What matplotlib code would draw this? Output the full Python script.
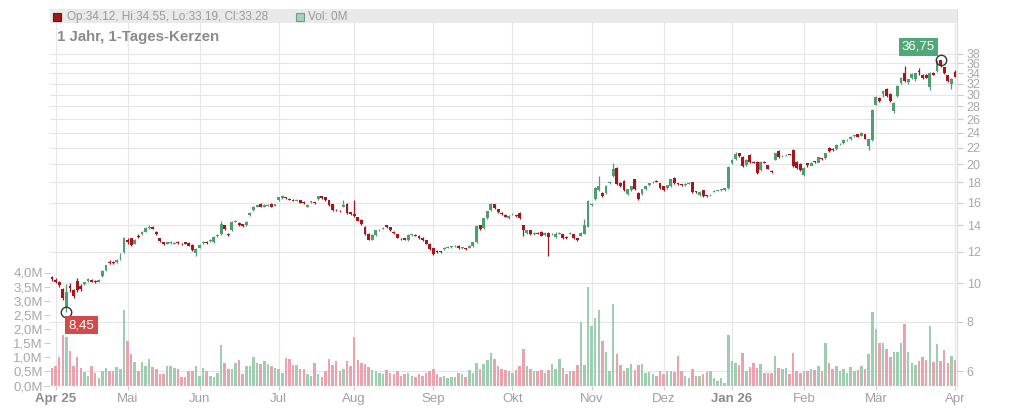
import numpy as np
import matplotlib
matplotlib.use("Agg")
import matplotlib.pyplot as plt
from matplotlib.patches import Rectangle

plt.rcParams['font.family'] = ['Liberation Sans', 'DejaVu Sans']

# ---------------- data (daily candles, 1 year) ----------------
opens = [10.35, 10.20, 10.05, 9.70, 8.70, 9.85, 9.60, 10.15, 9.85, 9.95, 10.15, 10.20, 10.15, 10.10, 10.45, 10.80, 11.35, 11.35, 11.30, 11.50,
         12.00, 12.90, 13.00, 12.60, 13.20, 13.30, 13.50, 13.80, 13.90, 13.50, 13.00, 12.70, 12.60, 12.65, 12.60, 12.75, 12.60, 12.70, 12.65, 12.50,
         11.90, 12.30, 12.65, 12.75, 12.80, 12.70, 13.15, 13.30, 14.00, 13.30, 13.60, 14.30, 14.20, 14.10, 14.00, 14.85, 15.30, 15.60, 15.90, 15.60,
         15.70, 15.90, 15.70, 16.20, 16.40, 16.50, 16.30, 16.20, 16.15, 16.20, 16.05, 15.60, 16.05, 16.00, 16.30, 16.60, 16.50, 16.20, 15.85, 15.35,
         15.25, 15.60, 15.90, 15.10, 15.00, 14.70, 14.45, 13.90, 13.35, 12.90, 13.25, 13.60, 13.75, 14.00, 13.85, 13.50, 13.30, 13.00, 13.00, 12.85,
         13.25, 13.25, 13.20, 13.05, 12.85, 12.60, 12.25, 12.10, 12.05, 12.20, 12.30, 12.35, 12.40, 12.45, 12.28, 12.25, 12.30, 12.40, 12.70, 14.00,
         13.80, 14.60, 15.30, 15.85, 15.40, 15.05, 14.90, 14.60, 14.95, 14.85, 15.05, 14.00, 13.40, 13.60, 13.30, 13.40, 13.50, 13.25, 13.40, 13.30,
         13.10, 13.35, 13.30, 13.10, 13.35, 13.30, 13.00, 13.20, 13.35, 13.90, 15.80, 16.30, 17.20, 16.90, 16.90, 17.90, 18.70, 19.60, 17.90,
         18.10, 16.80, 17.20, 18.30, 16.90, 16.80, 17.30, 17.70, 18.00, 18.10, 17.90, 17.60, 17.40, 17.60, 18.50, 17.90, 17.80, 17.75, 17.85, 18.00,
         17.05, 16.70, 17.20, 16.65, 16.70, 17.05, 17.15, 17.20, 17.20, 17.40, 20.10, 20.60, 21.30, 20.90, 19.90, 21.10, 20.25, 20.30, 19.30, 20.25,
         19.90, 19.20, 20.50, 21.60, 20.95, 21.05, 21.15, 21.70, 20.30, 20.00, 18.80, 20.10, 19.80, 20.30, 20.20, 20.65, 20.70, 22.00, 21.90, 21.80,
         22.45, 22.60, 23.00, 23.10, 23.55, 23.80, 23.60, 23.80, 22.30, 23.00, 28.30, 29.40, 30.10, 31.00, 30.10, 27.20, 29.80, 32.10, 34.10, 32.30,
         33.10, 32.90, 34.35, 33.70, 33.70, 31.30, 34.10, 34.40, 36.60, 35.20, 33.60, 32.00, 34.12]
closes = [10.25, 10.10, 9.90, 9.20, 9.50, 9.75, 9.30, 9.60, 9.65, 10.05, 10.25, 10.10, 10.05, 10.20, 10.75, 11.10, 11.25, 11.25, 11.45, 11.55,
          13.00, 12.70, 12.50, 12.90, 13.10, 13.50, 13.80, 13.85, 13.75, 13.30, 12.80, 12.55, 12.70, 12.70, 12.65, 12.65, 12.55, 12.60, 12.45, 12.15,
          12.20, 12.50, 12.70, 12.65, 12.90, 13.10, 13.25, 14.10, 13.70, 13.25, 14.30, 14.35, 14.00, 13.95, 14.30, 15.05, 15.60, 15.75, 15.60, 15.80,
          15.80, 15.60, 15.85, 16.50, 16.60, 16.45, 16.25, 16.15, 16.20, 16.00, 16.00, 15.80, 16.10, 15.95, 16.60, 16.40, 16.20, 15.75, 15.30, 15.30,
          15.20, 15.80, 15.05, 14.95, 14.80, 14.40, 14.10, 13.30, 12.90, 13.25, 13.60, 13.65, 13.80, 13.85, 13.60, 13.40, 13.05, 12.98, 12.90, 13.25,
          13.30, 13.20, 13.00, 12.85, 12.60, 12.20, 11.85, 12.00, 12.02, 12.30, 12.35, 12.38, 12.42, 12.25, 12.30, 12.20, 12.45, 12.70, 13.95, 13.70,
          14.60, 15.20, 15.85, 15.50, 15.10, 14.95, 14.75, 14.80, 15.00, 14.80, 14.60, 13.60, 13.60, 13.30, 13.40, 13.35, 13.20, 13.40, 13.10, 13.35,
          13.35, 13.40, 13.00, 13.00, 13.40, 13.00, 12.85, 13.40, 14.00, 16.10, 15.90, 17.40, 17.60, 16.60, 17.60, 18.00, 19.50, 17.80, 17.60, 17.20,
          17.30, 17.60, 17.30, 16.30, 17.30, 17.60, 17.90, 18.05, 18.08, 17.40, 17.20, 17.70, 18.30, 17.90, 17.80, 17.70, 17.80, 17.90, 17.00, 17.00,
          17.05, 16.60, 16.62, 16.72, 17.15, 17.20, 17.25, 17.40, 19.70, 20.50, 21.20, 21.00, 19.80, 20.50, 20.30, 20.20, 19.00, 20.30, 20.20, 19.50,
          19.10, 21.30, 20.80, 21.00, 21.10, 21.12, 19.80, 19.60, 19.30, 19.60, 19.90, 20.20, 20.25, 20.80, 20.60, 21.30, 21.60, 21.70, 22.40, 22.50,
          23.00, 23.05, 23.50, 23.60, 23.50, 24.00, 23.20, 23.20, 27.40, 29.60, 28.90, 30.60, 29.70, 28.90, 28.60, 31.60, 33.10, 32.40, 32.90, 33.90,
          34.10, 34.25, 33.00, 33.10, 34.10, 33.70, 36.50, 35.60, 34.00, 32.40, 32.90, 33.28]
highs = [10.45, 10.30, 10.15, 9.75, 9.95, 10.00, 9.70, 10.30, 9.95, 10.10, 10.30, 10.25, 10.20, 10.25, 10.80, 11.15, 11.45, 11.40, 11.50, 11.90,
         13.10, 13.00, 13.05, 12.95, 13.30, 13.55, 13.85, 14.00, 13.95, 13.55, 13.05, 12.75, 12.75, 12.80, 12.70, 12.80, 12.65, 12.75, 12.70, 12.55,
         12.25, 12.55, 12.80, 12.80, 12.95, 13.15, 13.30, 14.40, 14.05, 13.40, 14.40, 14.45, 14.25, 14.15, 14.35, 15.10, 15.65, 15.80, 15.95, 15.85,
         15.90, 15.95, 15.90, 16.55, 16.70, 16.55, 16.40, 16.30, 16.30, 16.25, 16.10, 15.85, 16.15, 16.05, 16.65, 16.65, 16.55, 16.25, 15.90, 15.40,
         15.35, 16.20, 15.95, 15.15, 16.20, 14.75, 14.50, 13.95, 13.40, 13.30, 13.65, 13.70, 13.90, 14.05, 13.90, 13.55, 13.35, 13.05, 13.05, 13.30,
         13.35, 13.30, 13.25, 13.10, 12.90, 12.65, 12.30, 12.15, 12.10, 12.35, 12.40, 12.42, 12.50, 12.50, 12.35, 12.30, 12.50, 12.75, 14.00, 14.05,
         14.65, 15.25, 15.95, 15.90, 15.45, 15.10, 14.95, 14.85, 15.05, 14.90, 15.10, 14.05, 13.65, 13.65, 13.45, 13.45, 13.55, 13.45, 13.45, 13.40,
         13.45, 13.45, 13.35, 13.15, 13.45, 13.35, 13.05, 13.45, 14.50, 16.20, 16.00, 17.50, 18.70, 17.00, 17.70, 18.10, 20.20, 19.70, 18.00,
         18.20, 17.35, 17.65, 18.40, 17.00, 17.35, 17.65, 17.95, 18.15, 18.20, 17.95, 17.65, 17.75, 18.35, 18.60, 17.95, 17.85, 17.90, 18.00, 18.05,
         17.10, 17.10, 17.25, 16.70, 16.80, 17.20, 17.25, 17.30, 17.45, 19.80, 20.60, 21.50, 21.40, 21.00, 20.60, 21.20, 20.35, 20.40, 20.40, 20.35,
         19.95, 19.30, 21.40, 21.70, 21.10, 21.20, 21.25, 21.80, 20.40, 20.10, 19.70, 20.20, 20.30, 20.40, 20.90, 20.75, 21.40, 22.10, 22.00, 22.50,
         22.60, 23.10, 23.15, 23.60, 23.70, 23.90, 24.10, 23.90, 23.30, 27.60, 29.80, 29.60, 30.80, 31.20, 30.20, 28.80, 31.80, 33.20, 35.50, 32.60,
         33.95, 34.10, 35.00, 33.80, 33.90, 34.30, 34.30, 36.60, 36.75, 35.30, 33.70, 33.00, 34.55]
lows = [10.15, 10.00, 9.80, 9.05, 8.45, 9.50, 9.20, 9.50, 9.55, 9.90, 10.10, 10.05, 10.00, 10.05, 10.40, 10.75, 11.20, 11.20, 11.25, 11.45,
        11.90, 12.60, 12.40, 12.55, 13.00, 13.25, 13.45, 13.75, 13.70, 13.25, 12.75, 12.50, 12.55, 12.60, 12.55, 12.60, 12.50, 12.55, 12.40, 12.10,
        11.75, 12.25, 12.60, 12.60, 12.75, 12.65, 13.10, 13.25, 13.65, 13.20, 13.55, 14.25, 13.95, 13.90, 13.95, 14.80, 15.25, 15.55, 15.55, 15.55,
        15.65, 15.55, 15.65, 16.15, 16.35, 16.35, 16.20, 16.10, 16.10, 15.95, 15.90, 15.55, 16.00, 15.90, 16.25, 16.35, 16.15, 15.70, 15.25, 15.20,
        15.10, 15.55, 15.00, 14.90, 14.75, 14.35, 14.05, 13.25, 12.85, 12.85, 13.20, 13.55, 13.70, 13.80, 13.55, 13.35, 13.00, 12.90, 12.85, 12.80,
        13.20, 13.15, 12.95, 12.80, 12.55, 12.15, 11.80, 11.95, 11.95, 12.15, 12.25, 12.30, 12.35, 12.20, 12.20, 12.15, 12.25, 12.35, 12.65, 13.65,
        13.75, 14.55, 15.25, 15.45, 15.05, 14.90, 14.70, 14.55, 14.90, 14.75, 14.55, 13.20, 13.35, 13.25, 13.25, 13.30, 13.15, 13.20, 11.70, 13.25,
        13.05, 13.30, 12.95, 12.95, 13.30, 12.95, 12.80, 13.15, 13.30, 13.85, 15.70, 16.20, 17.10, 16.50, 16.85, 17.80, 18.60, 17.70, 17.50,
        17.10, 16.70, 17.15, 17.20, 16.20, 16.75, 17.25, 17.65, 17.90, 18.00, 17.35, 17.15, 17.35, 17.55, 17.85, 17.70, 17.60, 17.65, 17.80, 16.95, 16.90,
        16.65, 16.55, 16.55, 16.65, 17.00, 17.10, 17.15, 17.15, 17.35, 20.00, 20.55, 20.90, 19.70, 19.85, 20.20, 20.10, 18.90, 19.25, 20.10, 19.45,
        19.00, 20.45, 20.70, 20.90, 21.00, 21.05, 19.70, 19.50, 19.20, 18.70, 19.70, 20.15, 20.15, 20.50, 20.50, 20.65, 21.50, 21.60, 21.75, 22.35,
        22.55, 22.90, 23.05, 23.45, 23.40, 23.55, 23.10, 21.70, 22.90, 28.20, 28.80, 29.60, 29.50, 28.80, 27.00, 29.60, 31.90, 32.20, 32.00, 32.90,
        32.40, 33.60, 32.90, 33.00, 30.80, 33.60, 34.30, 35.30, 33.90, 32.20, 31.00, 33.19]
volumes_m = [0.63, 0.68, 1.00, 1.77, 1.70, 1.22, 0.70, 1.00, 0.63, 0.48, 0.35, 0.68, 0.43, 0.28, 0.53, 0.63, 0.53, 0.50, 0.66, 0.60,
             2.68, 1.57, 1.13, 0.82, 0.52, 0.83, 0.68, 0.95, 0.66, 0.57, 0.40, 0.40, 0.70, 0.68, 0.62, 0.57, 0.30, 0.30, 0.50, 0.50,
             0.68, 0.33, 0.63, 0.50, 0.33, 0.30, 0.46, 1.45, 0.78, 0.57, 0.60, 0.78, 0.92, 0.40, 0.68, 0.68, 1.00, 0.78, 0.75, 0.86,
             0.75, 0.68, 0.63, 0.60, 0.46, 0.98, 0.95, 0.72, 0.72, 0.57, 0.57, 0.40, 0.33, 0.78, 0.42, 0.30, 0.50, 0.93, 0.72, 0.86,
             0.50, 0.60, 0.85, 0.70, 1.70, 0.90, 0.80, 0.75, 0.65, 0.55, 0.50, 0.45, 0.40, 0.55, 0.45, 0.40, 0.50, 0.35, 0.40, 0.45,
             0.35, 0.30, 0.40, 0.35, 0.45, 0.50, 0.60, 0.40, 0.30, 0.35, 0.25, 0.30, 0.30, 0.45, 0.40, 0.30, 0.55, 0.45, 0.80, 0.60,
             0.75, 0.90, 1.15, 0.95, 0.70, 0.60, 0.55, 0.50, 0.45, 0.55, 0.70, 1.30, 0.70, 0.60, 0.50, 0.50, 0.55, 0.45, 0.55, 0.75,
             0.60, 0.95, 0.63, 0.42, 0.53, 0.53, 0.71, 2.24, 0.71, 3.48, 2.12, 2.40, 2.69, 1.59, 1.18, 0.53, 2.87, 1.13, 0.71, 0.53,
             0.63, 0.77, 0.55, 0.71, 0.77, 0.44, 0.47, 0.39, 0.35, 0.50, 0.42, 0.53, 0.53, 0.47, 1.03, 0.50, 0.32, 0.27, 0.60, 0.33,
             0.33, 0.39, 0.47, 0.53, 0.27, 0.15, 0.27, 0.08, 1.77, 0.88, 0.79, 0.74, 1.14, 0.50, 0.67, 0.79, 0.63, 0.77, 0.44, 0.44,
             0.44, 1.06, 0.63, 0.60, 0.63, 0.40, 1.14, 0.53, 0.44, 0.50, 0.50, 0.60, 0.55, 0.70, 0.50, 1.50, 0.80, 0.60, 0.70, 0.50,
             0.60, 0.45, 0.65, 0.50, 0.55, 0.70, 0.60, 1.10, 2.60, 2.00, 1.50, 1.50, 1.30, 1.00, 1.20, 1.20, 1.50, 2.16, 1.18, 0.79,
             0.71, 0.86, 1.00, 0.90, 2.12, 0.83, 1.48, 0.88, 1.24, 0.80, 1.06, 0.90]

price_ticks = [6, 8, 10, 12, 14, 16, 18, 20, 22, 24, 26, 28, 30, 32, 34, 36, 38]
vol_ticks = [0.0, 0.5, 1.0, 1.5, 2.0, 2.5, 3.0, 3.5, 4.0]
month_idx = [1, 21, 41, 63, 84, 106, 128, 150, 170, 189, 209, 229, 251]
month_labels = ["Apr 25", "Mai", "Jun", "Jul", "Aug", "Sep", "Okt", "Nov", "Dez", "Jan 26", "Feb", "Mär", "Apr"]
bold_labels = ["Apr 25", "Jan 26"]

legend_ohlc = "Op:34.12, Hi:34.55, Lo:33.19, Cl:33.28"
legend_vol = "Vol: 0M"
title = "1 Jahr, 1-Tages-Kerzen"

# ---------------- styling ----------------
UP = "#4f9d70"
DOWN = "#a3171c"
VUP = "#9fcdb2"
VDOWN = "#eba2ae"
GRID = "#e6e6e6"
TXT = "#a8a8a8"

o = np.array(opens); c = np.array(closes); h = np.array(highs); l = np.array(lows)
v = np.array(volumes_m)
n = len(c)
x = np.arange(n)
up = c >= o

W, H = 1024, 409
fig = plt.figure(figsize=(W / 100, H / 100), dpi=100)
L, R, T, B = 50, 957, 9, 386
axp = fig.add_axes([L / W, 1 - B / H, (R - L) / W, (B - T) / H])
axv = axp.twinx()

# x scale: first candle at px 52, last at px 955
s = (955 - 52) / (n - 1)
axp.set_xlim(-(52 - L) / s, (n - 1) + (R - 955) / s)

# price (log)
k = (371 - 54) / np.log(38 / 6)
ymin = np.exp(np.log(6) - (B - 371) / k)
ymax = np.exp(np.log(38) + (54 - T) / k)
axp.set_yscale('log')
axp.set_ylim(ymin, ymax)
axp.yaxis.tick_right()
axp.set_yticks(price_ticks)
axp.set_yticklabels([str(t) for t in price_ticks])
axp.yaxis.set_minor_locator(matplotlib.ticker.NullLocator())
axp.tick_params(axis='y', colors="#cccccc", labelcolor=TXT, labelsize=9, length=4, width=0.8, pad=3)

# volume (linear)
vpx = 28.25
axv.set_ylim(-(B - 385.5) / vpx, (385.5 - T) / vpx)
axv.yaxis.tick_left()
axv.set_yticks(vol_ticks)
axv.set_yticklabels([f"{t:.1f}M".replace('.', ',') for t in vol_ticks])
axv.tick_params(axis='y', colors="#cccccc", labelcolor=TXT, labelsize=9.5, length=4, width=0.8, pad=1)

# x ticks
axp.set_xticks(month_idx)
axp.set_xticklabels(month_labels)
axp.tick_params(axis='x', colors="#cccccc", labelcolor="#a0a0a0", labelsize=9.5, length=3, width=0.8, pad=2)
for lab in axp.get_xticklabels():
    if lab.get_text() in bold_labels:
        lab.set_fontweight('bold')
        lab.set_color('#8c8c8c')

# grid
axp.grid(True, which='major', color=GRID, lw=0.8)
axp.set_axisbelow(True)

for sp in ['top', 'left', 'bottom']:
    axp.spines[sp].set_visible(False)
    axv.spines[sp].set_visible(False)
axp.spines['right'].set_color('#dcdcdc')
axv.spines['right'].set_color('#dcdcdc')

# candles
col = np.where(up, UP, DOWN)
axp.vlines(x, l, h, colors=col, lw=0.9, zorder=3)
body_lo = np.minimum(o, c)
body_h = np.maximum(np.abs(c - o), body_lo * 0.004)
axp.bar(x, body_h, bottom=body_lo, width=0.8, color=col, zorder=4, linewidth=0)

# volume bars
vcol = np.where(up, VUP, VDOWN)
axv.bar(x, v, width=0.7, color=vcol, linewidth=0, zorder=2)

# header band
axv.add_patch(Rectangle((0, (B - 23) / (B - T)), 1, (23 - T) / (B - T), transform=axv.transAxes,
                        facecolor="#e9e9e9", edgecolor='none', zorder=5, clip_on=False))

# legend / title (pixel positions converted to figure fraction)
def px_rect(x0, y0, w, hgt, fc, ec):
    fig.patches.append(Rectangle((x0 / W, 1 - (y0 + hgt) / H), w / W, hgt / H, transform=fig.transFigure,
                                 facecolor=fc, edgecolor=ec, lw=0.8, zorder=10))

px_rect(53, 13, 8, 8, DOWN, "#6e0f12")
fig.text(67 / W, 1 - 17 / H, legend_ohlc, color="#9a9a9a", fontsize=8.5, va='center', ha='left')
px_rect(296, 13, 8, 8, "#a6d2b9", "#6f9c82")
fig.text(308 / W, 1 - 17 / H, legend_vol, color="#9a9a9a", fontsize=8.5, va='center', ha='left')
fig.text(57 / W, 1 - 37 / H, title, color="#8a8a8a", fontsize=10.8, fontweight='bold', va='center', ha='left')

# min / max markers
imin = int(np.argmin(l)); imax = int(np.argmax(h))
for idx, val in [(imin, l[imin]), (imax, h[imax])]:
    axv.plot([idx], [val], marker='o', ms=7.5, mfc='none', mec='#333333', mew=1.0,
             transform=axp.transData, zorder=8, clip_on=False)
axv.annotate(f"{l[imin]:.2f}".replace('.', ','), xy=(imin, l[imin]), xycoords=axp.transData,
             xytext=(1.5, -5), textcoords='offset points', ha='left', va='top', color='white', fontsize=9.5,
             bbox=dict(boxstyle='square,pad=0.25', fc='#d24b4b', ec='none'), zorder=9)
axv.annotate(f"{h[imax]:.2f}".replace('.', ','), xy=(imax, h[imax]), xycoords=axp.transData,
             xytext=(-4, 5), textcoords='offset points', ha='right', va='bottom', color='white', fontsize=9.5,
             bbox=dict(boxstyle='square,pad=0.25', fc='#52a77a', ec='none'), zorder=9)

fig.savefig("out.png", dpi=100)
